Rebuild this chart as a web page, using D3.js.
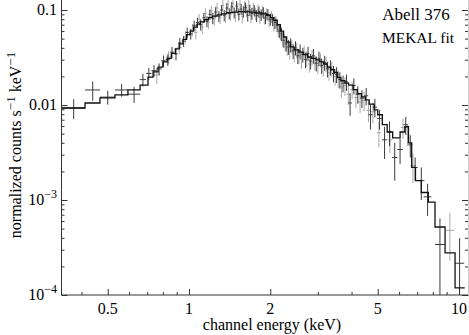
<!DOCTYPE html>
<html><head><meta charset="utf-8">
<script src="https://cdn.jsdelivr.net/npm/d3@7"></script>
<style>body{margin:0;background:#fff} svg{display:block} text{font-family:"Liberation Serif","Times New Roman",serif;fill:#000}</style>
</head><body><svg id="c" width="469" height="335"></svg>
<script>
// ---- model (step histogram) ----
const modelEdges = [0.336,0.412,0.468,0.532,0.594,0.659,0.705,0.736,0.768,0.80,0.83,0.86,0.89,0.92,0.95,0.98,1.01,1.04,1.07,1.10,1.14,1.18,1.22,1.27,1.32,1.38,1.45,1.52,1.60,1.68,1.76,1.85,1.94,2.00,2.06,2.12,2.18,2.24,2.30,2.37,2.45,2.55,2.65,2.75,2.85,2.95,3.05,3.15,3.25,3.35,3.45,3.55,3.65,3.78,3.90,4.05,4.20,4.35,4.50,4.65,4.85,5.00,5.20,5.42,5.68,6.05,6.30,6.50,6.68,6.90,7.25,7.70,8.15,8.88,9.67,10.5];
const modelRate = [0.0093,0.0105,0.0119,0.0128,0.0144,0.0162,0.0197,0.0223,0.0251,0.0284,0.031,0.035,0.039,0.044,0.049,0.055,0.060,0.066,0.071,0.075,0.079,0.083,0.086,0.089,0.091,0.094,0.095,0.096,0.0955,0.095,0.093,0.091,0.088,0.083,0.078,0.070,0.060,0.052,0.046,0.041,0.038,0.036,0.034,0.032,0.031,0.0298,0.0285,0.027,0.025,0.0235,0.022,0.0195,0.018,0.017,0.0162,0.0145,0.0132,0.0122,0.0113,0.0102,0.0089,0.0079,0.0062,0.0052,0.0045,0.0052,0.0059,0.0040,0.0022,0.0016,0.0012,0.00095,0.00052,0.000277,0.000119];

// ---- data set 1 (dark) ----
const darkE = [0.374,0.440,0.500,0.563,0.626,0.675,0.710,0.742,0.775,0.805,0.835,0.865,0.895,0.925,0.955,0.985,1.015,1.045,1.075,1.105,1.135,1.165,1.195,1.225,1.255,1.29,1.32,1.35,1.38,1.41,1.44,1.47,1.50,1.53,1.56,1.59,1.62,1.65,1.68,1.71,1.745,1.78,1.815,1.85,1.885,1.92,1.96,2.00,2.04,2.08,2.12,2.16,2.20,2.245,2.29,2.335,2.38,2.43,2.48,2.53,2.58,2.64,2.70,2.76,2.82,2.89,2.96,3.03,3.10,3.18,3.26,3.34,3.43,3.52,3.62,3.72,3.83,3.95,4.08,4.22,4.37,4.53,4.70,4.88,5.08,5.30,5.53,5.78,6.05,6.35,6.60,6.88,7.25,7.65,8.50,10.05];
const darkHalfWidth = [0.038,0.028,0.032,0.031,0.033,0.018,0.016,0.016,0.016,0.015,0.015,0.014,0.014,0.014,0.014,0.014,0.014,0.014,0.014,0.014,0.014,0.014,0.014,0.014,0.014,0.015,0.015,0.015,0.015,0.015,0.015,0.015,0.015,0.015,0.015,0.015,0.015,0.015,0.015,0.015,0.017,0.017,0.017,0.017,0.017,0.017,0.02,0.02,0.02,0.02,0.02,0.02,0.02,0.022,0.022,0.022,0.022,0.025,0.025,0.025,0.025,0.03,0.03,0.03,0.03,0.035,0.035,0.035,0.035,0.04,0.04,0.04,0.045,0.045,0.05,0.05,0.055,0.06,0.065,0.07,0.075,0.08,0.085,0.09,0.1,0.11,0.12,0.13,0.14,0.12,0.12,0.15,0.2,0.25,0.35,0.4];
const darkRate = [0.0093,0.0144,0.0121,0.0144,0.0130,0.0185,0.0215,0.0230,0.0240,0.0292,0.0300,0.0360,0.0345,0.0450,0.0470,0.0580,0.0560,0.0690,0.0740,0.0700,0.0830,0.0760,0.0900,0.0820,0.0950,0.0860,0.1000,0.0880,0.1050,0.0920,0.1080,0.0940,0.1100,0.0900,0.1020,0.0960,0.1060,0.0880,0.1000,0.0920,0.0990,0.0870,0.0960,0.0890,0.0940,0.0830,0.0900,0.0800,0.0790,0.0740,0.0690,0.0600,0.0560,0.0480,0.0440,0.0410,0.0430,0.0370,0.0400,0.0330,0.0370,0.0340,0.0300,0.0350,0.0290,0.0330,0.0275,0.0310,0.0260,0.0280,0.0240,0.0250,0.0215,0.0210,0.0185,0.0170,0.0175,0.0105,0.0160,0.0130,0.0118,0.0125,0.0079,0.0095,0.0072,0.0043,0.0052,0.0028,0.0034,0.0062,0.0038,0.0022,0.0016,0.00108,0.00034,0.000216];
const darkErr = [0.0022,0.0033,0.0020,0.0022,0.0025,0.0028,0.0030,0.0032,0.0034,0.0040,0.0042,0.0048,0.0050,0.0058,0.0062,0.0070,0.0072,0.0085,0.0090,0.0095,0.0100,0.0100,0.0110,0.0110,0.0120,0.0115,0.0125,0.0120,0.0130,0.0125,0.0135,0.0125,0.0140,0.0125,0.0135,0.0130,0.0140,0.0125,0.0135,0.0130,0.0135,0.0125,0.0130,0.0125,0.0130,0.0120,0.0125,0.0115,0.0115,0.0110,0.0105,0.0095,0.0090,0.0080,0.0075,0.0072,0.0072,0.0065,0.0068,0.0060,0.0064,0.0060,0.0056,0.0060,0.0054,0.0058,0.0050,0.0054,0.0048,0.0050,0.0045,0.0046,0.0042,0.0040,0.0036,0.0034,0.0034,0.0028,0.0031,0.0027,0.0025,0.0026,0.0024,0.0021,0.0017,0.0016,0.0015,0.0012,0.0010,0.0013,0.0010,0.0006,0.0006,0.0004,0.00030,0.00018];

// ---- data set 2 (grey) ----
const greyE = [0.76,0.84,0.92,0.97,1.03,1.06,1.09,1.12,1.15,1.18,1.21,1.24,1.27,1.305,1.335,1.365,1.395,1.425,1.455,1.485,1.515,1.545,1.575,1.605,1.635,1.665,1.695,1.73,1.76,1.80,1.83,1.87,1.90,1.94,1.98,2.02,2.06,2.10,2.14,2.18,2.22,2.27,2.31,2.36,2.405,2.455,2.505,2.555,2.61,2.67,2.73,2.79,2.855,2.925,3.00,3.07,3.14,3.22,3.30,3.38,3.48,3.57,3.67,3.78,3.89,4.02,4.15,4.30,4.45,4.62,4.80,5.05,5.55,6.20,6.45,6.75,9.25];
const greyHalfWidth = [0.02,0.02,0.02,0.015,0.015,0.015,0.015,0.015,0.015,0.015,0.015,0.015,0.015,0.015,0.015,0.015,0.015,0.015,0.015,0.015,0.015,0.015,0.015,0.015,0.015,0.015,0.015,0.017,0.017,0.017,0.017,0.017,0.017,0.02,0.02,0.02,0.02,0.02,0.02,0.02,0.02,0.022,0.022,0.022,0.025,0.025,0.025,0.025,0.03,0.03,0.03,0.03,0.035,0.035,0.035,0.035,0.04,0.04,0.04,0.045,0.045,0.05,0.05,0.055,0.06,0.065,0.07,0.075,0.08,0.085,0.09,0.1,0.12,0.12,0.1,0.15,0.35];
const greyRate = [0.0207,0.032,0.040,0.052,0.062,0.058,0.080,0.066,0.092,0.074,0.098,0.080,0.105,0.083,0.112,0.086,0.115,0.090,0.118,0.088,0.104,0.115,0.085,0.110,0.098,0.112,0.086,0.104,0.092,0.100,0.084,0.097,0.082,0.091,0.078,0.085,0.070,0.075,0.062,0.058,0.050,0.045,0.040,0.037,0.041,0.034,0.038,0.033,0.030,0.036,0.031,0.027,0.032,0.028,0.026,0.030,0.025,0.027,0.022,0.024,0.020,0.019,0.0155,0.016,0.013,0.0145,0.012,0.0108,0.0112,0.0088,0.0085,0.0051,0.0043,0.0058,0.0049,0.0023,0.00048];
const greyErr = [0.004,0.005,0.006,0.008,0.009,0.009,0.011,0.010,0.012,0.011,0.013,0.012,0.014,0.012,0.015,0.013,0.015,0.013,0.016,0.013,0.015,0.016,0.013,0.015,0.014,0.015,0.013,0.015,0.014,0.014,0.013,0.014,0.012,0.013,0.012,0.012,0.011,0.011,0.010,0.010,0.009,0.008,0.007,0.007,0.007,0.006,0.007,0.006,0.006,0.006,0.006,0.005,0.006,0.005,0.005,0.005,0.005,0.005,0.004,0.0045,0.004,0.004,0.0035,0.0035,0.003,0.003,0.0028,0.0026,0.0026,0.0022,0.0021,0.0015,0.0012,0.0014,0.0012,0.0008,0.00025];

// ---- ticks ----
const xMajorTicks = [0.5,1,2,5,10];
const xMajorLabels = ["0.5","1","2","5","10"];
const xMinorTicks = [0.4,0.6,0.7,0.8,0.9,3,4,6,7,8,9];
const yMajorTicks = [1e-4,1e-3,0.01,0.1];
const yMajorLabels = [["10","−4"],["10","−3"],["0.01",""],["0.1",""]];
const yMinorTicks = [2e-4,3e-4,4e-4,5e-4,6e-4,7e-4,8e-4,9e-4,2e-3,3e-3,4e-3,5e-3,6e-3,7e-3,8e-3,9e-3,0.02,0.03,0.04,0.05,0.06,0.07,0.08,0.09];

const W = 469, H = 335;
const pL = 61.5, pR = 468, pT = 0, pB = 295;
const xs = d3.scaleLog().domain([1,10]).range([189,459]);
const ys = d3.scaleLog().domain([1e-4,0.1]).range([295,10]);
const svg = d3.select("#c");

svg.append("clipPath").attr("id","clip").append("rect")
  .attr("x",pL).attr("y",pT).attr("width",pR-pL).attr("height",pB-pT);
const plot = svg.append("g").attr("clip-path","url(#clip)");

function drawSet(E, hw, r, e, color){
  const g = plot.append("g").attr("stroke",color).attr("stroke-width",1).attr("fill","none");
  E.forEach((ev,i)=>{
    const yy = ys(r[i]);
    g.append("line").attr("x1",xs(ev-hw[i])).attr("x2",xs(ev+hw[i])).attr("y1",yy).attr("y2",yy);
    const lo = r[i]-e[i];
    const ylo = lo > 1e-5 ? ys(lo) : pB+5;
    g.append("line").attr("x1",xs(ev)).attr("x2",xs(ev)).attr("y1",ylo).attr("y2",ys(r[i]+e[i]));
  });
}
drawSet(greyE, greyHalfWidth, greyRate, greyErr, "#a8a8a8");
drawSet(darkE, darkHalfWidth, darkRate, darkErr, "#3a3a3a");

const stepPts = modelRate.map((v,i)=>[modelEdges[i],v]);
stepPts.push([modelEdges[modelEdges.length-1], modelRate[modelRate.length-1]]);
plot.append("path").datum(stepPts)
  .attr("d", d3.line().x(d=>xs(d[0])).y(d=>ys(d[1])).curve(d3.curveStepAfter))
  .attr("fill","none").attr("stroke","#111").attr("stroke-width",1.3);

// axes
const axisColor = "#333";
function styleAxis(g){ g.select(".domain").remove(); g.selectAll("line").attr("stroke",axisColor); g.selectAll("text").remove(); }
svg.append("g").attr("transform",`translate(0,${pB})`)
  .call(d3.axisBottom(xs).tickValues(xMajorTicks).tickSize(-6).tickFormat("")).call(styleAxis);
svg.append("g").attr("transform",`translate(0,${pB})`)
  .call(d3.axisBottom(xs).tickValues(xMinorTicks).tickSize(-3).tickFormat("")).call(styleAxis);
svg.append("g").attr("transform",`translate(${pL},0)`)
  .call(d3.axisLeft(ys).tickValues(yMajorTicks).tickSize(-6).tickFormat("")).call(styleAxis);
svg.append("g").attr("transform",`translate(${pL},0)`)
  .call(d3.axisLeft(ys).tickValues(yMinorTicks).tickSize(-3).tickFormat("")).call(styleAxis);
svg.append("g").attr("transform",`translate(${pR},0)`)
  .call(d3.axisRight(ys).tickValues(yMajorTicks).tickSize(-6).tickFormat("")).call(styleAxis);
svg.append("g").attr("transform",`translate(${pR},0)`)
  .call(d3.axisRight(ys).tickValues(yMinorTicks).tickSize(-3).tickFormat("")).call(styleAxis);

svg.append("line").attr("x1",pL).attr("x2",pL).attr("y1",0).attr("y2",pB).attr("stroke",axisColor);
svg.append("line").attr("x1",pL).attr("x2",W).attr("y1",pB).attr("y2",pB).attr("stroke",axisColor);
svg.append("line").attr("x1",pR+0.5).attr("x2",pR+0.5).attr("y1",0).attr("y2",pB).attr("stroke","#ccc");

// tick labels
xMajorTicks.forEach((t,i)=>{
  svg.append("text").attr("x",xs(t)).attr("y",314).attr("text-anchor","middle")
    .attr("font-size",16).text(xMajorLabels[i]);
});
yMajorTicks.forEach((t,i)=>{
  const lab = yMajorLabels[i];
  const tx = svg.append("text").attr("x",57).attr("y",ys(t)+5).attr("text-anchor","end").attr("font-size",16);
  tx.append("tspan").text(lab[0]);
  if(lab[1]) tx.append("tspan").attr("dy",-7).attr("font-size",12).text(lab[1]);
});

// axis titles
svg.append("text").attr("x",272).attr("y",330).attr("text-anchor","middle").attr("font-size",16).text("channel energy (keV)");
const yl = svg.append("text").attr("transform","translate(21,145) rotate(-90)").attr("text-anchor","middle").attr("font-size",16);
yl.append("tspan").text("normalized counts s");
yl.append("tspan").attr("dy",-6).attr("font-size",13).text("−1");
yl.append("tspan").attr("dy",6).text(" keV");
yl.append("tspan").attr("dy",-6).attr("font-size",13).text("−1");

// annotations
svg.append("text").attr("x",416).attr("y",20).attr("text-anchor","middle").attr("font-size",17).text("Abell 376");
svg.append("text").attr("x",418).attr("y",43).attr("text-anchor","middle").attr("font-size",15.5).text("MEKAL fit");
</script></body></html>
